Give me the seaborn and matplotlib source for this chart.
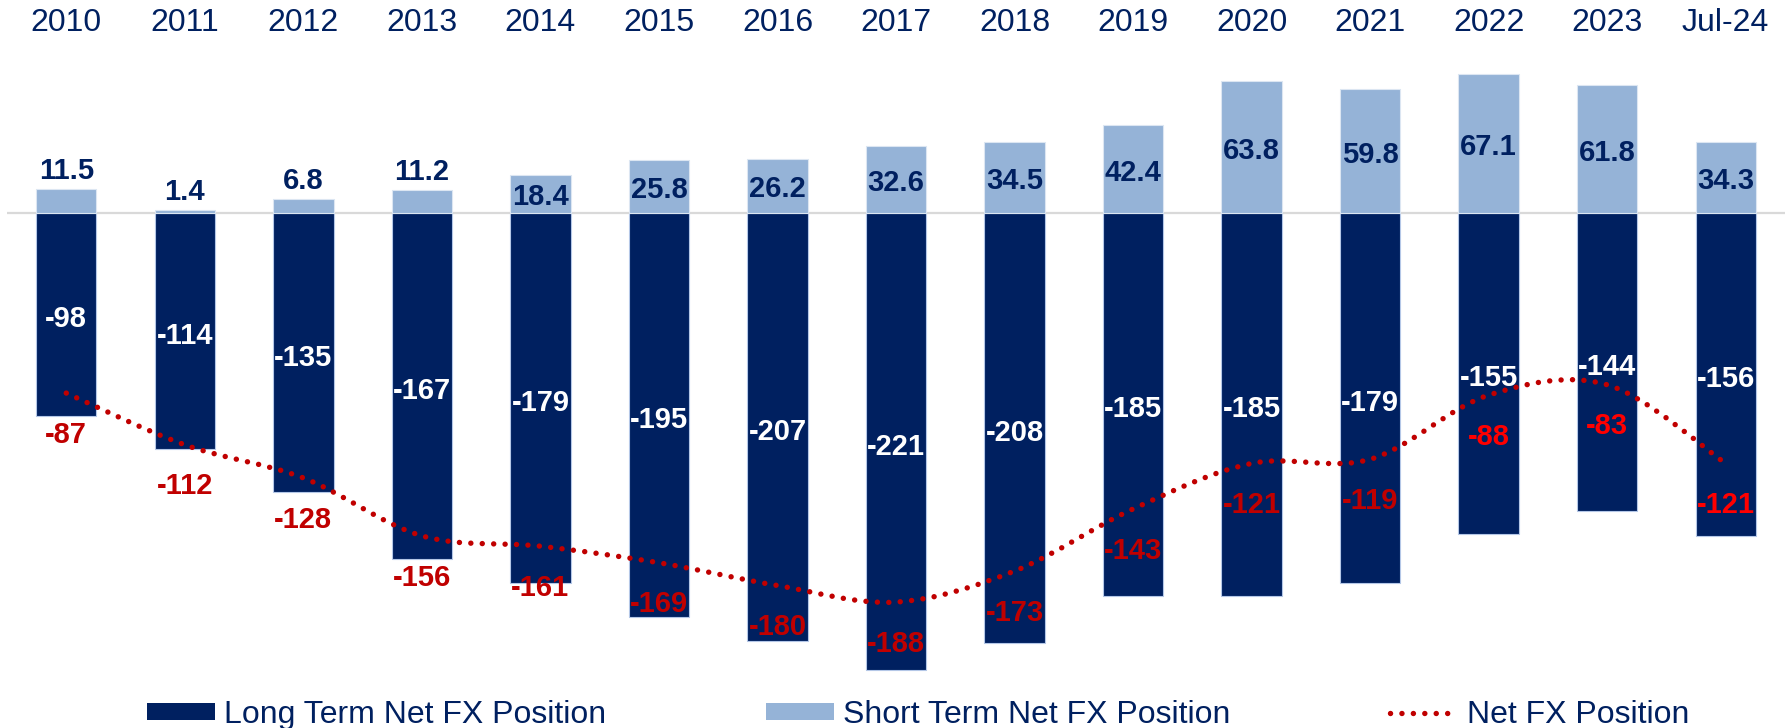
import numpy as np
import matplotlib
matplotlib.use("Agg")
from matplotlib import pyplot as plt
from matplotlib.path import Path
from matplotlib.patches import PathPatch, Patch
from matplotlib.lines import Line2D
import seaborn as sns

years = ["2010", "2011", "2012", "2013", "2014", "2015", "2016", "2017",
         "2018", "2019", "2020", "2021", "2022", "2023", "Jul-24"]
long_term = [-98, -114, -135, -167, -179, -195, -207, -221,
             -208, -185, -185, -179, -155, -144, -156]
short_term = [11.5, 1.4, 6.8, 11.2, 18.4, 25.8, 26.2, 32.6,
              34.5, 42.4, 63.8, 59.8, 67.1, 61.8, 34.3]
net_fx = [-87, -112, -128, -156, -161, -169, -180, -188,
          -173, -143, -121, -119, -88, -83, -121]

NAVY = "#002060"
LIGHT = "#95B3D7"
RED = "#C00000"
BRIGHT_RED = "#FF0000"
# labels sitting on top of a bar are a brighter red in the original
net_label_colors = [RED] * 12 + [BRIGHT_RED, BRIGHT_RED, BRIGHT_RED]

sns.set_style("white")
plt.rcParams["font.family"] = ["Liberation Sans", "DejaVu Sans"]


def smooth_path(xs, ys):
    # excel-style smoothed line: catmull-rom segments as cubic beziers
    pts = np.column_stack([xs, ys]).astype(float)
    ext = np.vstack([pts[0], pts, pts[-1]])
    verts = [pts[0]]
    codes = [Path.MOVETO]
    for i in range(len(pts) - 1):
        p0, p1, p2, p3 = ext[i], ext[i + 1], ext[i + 2], ext[i + 3]
        c1 = p1 + (p2 - p0) / 6
        c2 = p2 - (p3 - p1) / 6
        verts += [c1, c2, p2]
        codes += [Path.CURVE4] * 3
    return Path(verts, codes)


fig = plt.figure(figsize=(17.9, 7.28), dpi=100)
ax = fig.add_axes([7 / 1790, 0.0536, 1778 / 1790, 0.884])

sns.barplot(x=years, y=long_term, color=NAVY, saturation=1, width=0.51,
            errorbar=None, edgecolor="#B4C7E7", linewidth=0.8, ax=ax)
sns.barplot(x=years, y=short_term, color=LIGHT, saturation=1, width=0.51,
            errorbar=None, edgecolor="#DCE6F2", linewidth=0.8, ax=ax)

ax.axhline(0, color="#D9D9D9", lw=1.6, zorder=0.5)

xpos = np.arange(len(years))
line_style = (0, (0.01, 2.1))
ax.add_patch(PathPatch(smooth_path(xpos, net_fx), fill=False, edgecolor=RED,
                       lw=3.9, linestyle=line_style, capstyle="round", zorder=4))

# labels
lab_kw = dict(fontsize=21, fontweight="bold", textcoords="offset points",
              ha="center", zorder=5)
for x, v in zip(xpos, long_term):
    ax.annotate(f"{v}", (x, v / 2), xytext=(0, -3.5), va="center",
                color="white", **lab_kw)

for x, v in zip(xpos, short_term):
    if v < 15:
        ax.annotate(f"{v}", (x, v), xytext=(0, 3), va="bottom",
                    color=NAVY, **lab_kw)
    else:
        ax.annotate(f"{v}", (x, v / 2), xytext=(0, -2.5), va="center",
                    color=NAVY, **lab_kw)

for x, v, c in zip(xpos, net_fx, net_label_colors):
    ax.annotate(f"{v}", (x, v), xytext=(0, -30), va="center",
                color=c, **lab_kw)

ax.set_xlim(-0.5, len(years) - 0.5)
ax.set_ylim(-230, 81)
ax.xaxis.tick_top()
ax.tick_params(axis="x", length=0, pad=5, labelsize=23, labelcolor=NAVY)
ax.set_yticks([])
ax.set_xlabel("")
for s in ax.spines.values():
    s.set_visible(False)

handles = [
    Patch(facecolor=NAVY, edgecolor="none", label="Long Term Net FX Position"),
    Patch(facecolor=LIGHT, edgecolor="none", label="Short Term Net FX Position"),
    Line2D([], [], color=RED, lw=3.9, linestyle=line_style,
           dash_capstyle="round", label="Net FX Position"),
]
leg = fig.legend(handles=handles, loc="center", bbox_to_anchor=(0.5128, 0.018),
                 ncol=3, frameon=False, fontsize=23, handlelength=2.13,
                 handleheight=0.48, handletextpad=0.28, columnspacing=5.0,
                 borderpad=0, borderaxespad=0)
for t in leg.get_texts():
    t.set_color(NAVY)

fig.savefig("out.png", dpi=100)
